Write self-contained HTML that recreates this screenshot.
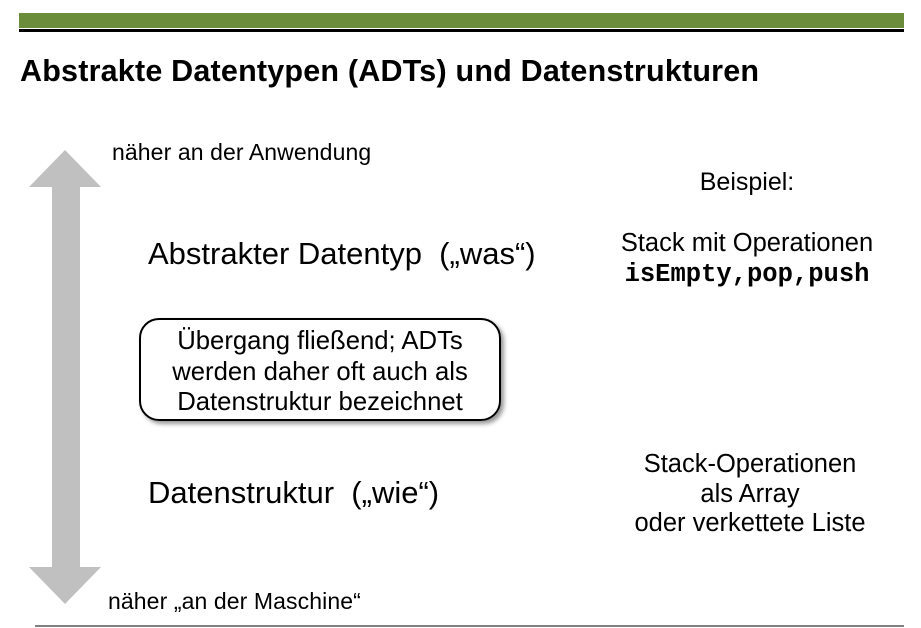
<!DOCTYPE html>
<html><head><meta charset="utf-8"><style>
body{margin:0;width:921px;height:628px;background:#fff;position:relative;overflow:hidden;font-family:"Liberation Sans",Arial,sans-serif;color:#000}
.a{position:absolute;white-space:nowrap}
</style></head><body>
<div class="a" style="left:19px;top:13px;width:885px;height:15px;background:#6b8c3a"></div>
<div class="a" style="left:19px;top:29px;width:885px;height:3px;background:#000"></div>
<div class="a" style="left:20px;top:54px;font-size:30.5px;font-weight:bold;letter-spacing:0.2px">Abstrakte Datentypen (ADTs) und Datenstrukturen</div>
<svg class="a" style="left:0;top:0" width="921" height="628">
<polygon points="65,150 101,187 80,187 80,567 101,567 65,604 29,567 52,567 52,187 29,187" fill="#c0c0c0"/>
<line x1="35" y1="626" x2="904" y2="626" stroke="#808080" stroke-width="2"/>
</svg>
<div class="a" style="left:112px;top:139px;font-size:23px;letter-spacing:0.1px">näher an der Anwendung</div>
<div class="a" style="left:108px;top:588px;font-size:23px;letter-spacing:0.1px">näher „an der Maschine“</div>
<div class="a" style="left:148px;top:236px;font-size:31px">Abstrakter Datentyp&nbsp; („was“)</div>
<div class="a" style="left:148px;top:475px;font-size:31px">Datenstruktur&nbsp; („wie“)</div>
<div class="a" style="left:139px;top:318px;border:2px solid #000;border-radius:20px;box-shadow:3px 3px 4px #999;text-align:center;font-size:25.7px;line-height:30.5px;padding-top:6px;box-sizing:border-box;width:362px;height:103px">Übergang fließend; ADTs<br>werden daher oft auch als<br>Datenstruktur bezeichnet</div>
<div class="a" style="left:597px;top:168px;width:300px;text-align:center;font-size:25px">Beispiel:</div>
<div class="a" style="left:597px;top:228px;width:300px;text-align:center;font-size:25.5px;line-height:30px">Stack mit Operationen<br><b style="font-family:'Liberation Mono',monospace">isEmpty,pop,push</b></div>
<div class="a" style="left:600px;top:450px;width:300px;text-align:center;font-size:25.5px;line-height:29.5px">Stack-Operationen<br>als Array<br>oder verkettete Liste</div>
</body></html>
